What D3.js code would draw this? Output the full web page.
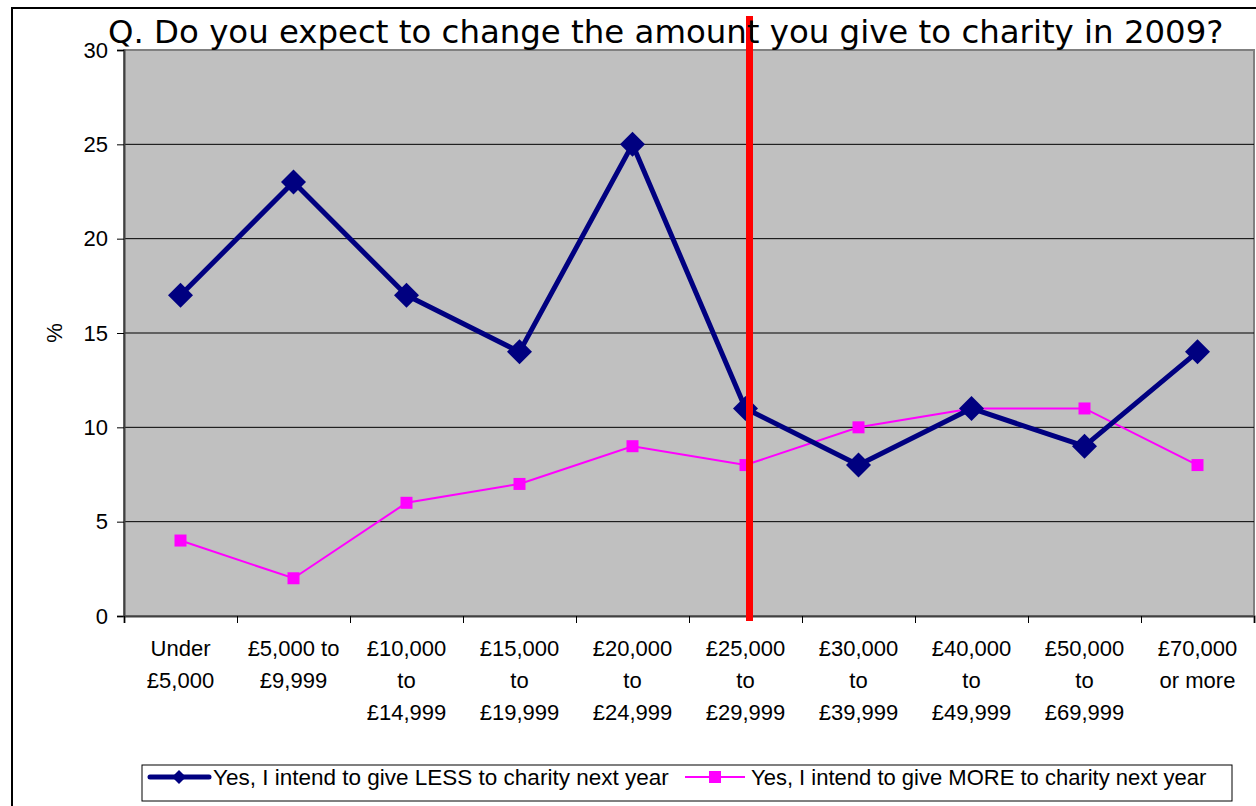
<!DOCTYPE html>
<html><head><meta charset="utf-8">
<script src="https://cdn.jsdelivr.net/npm/d3@7"></script>
<style>body{margin:0;background:#fff}svg{display:block}</style>
</head><body>
<svg id="c" width="1256" height="806"></svg>
<script>
const categories = [
  ["Under","£5,000"],
  ["£5,000 to","£9,999"],
  ["£10,000","to","£14,999"],
  ["£15,000","to","£19,999"],
  ["£20,000","to","£24,999"],
  ["£25,000","to","£29,999"],
  ["£30,000","to","£39,999"],
  ["£40,000","to","£49,999"],
  ["£50,000","to","£69,999"],
  ["£70,000","or more"]
];
const lessValues = [17, 23, 17, 14, 25, 11, 8, 11, 9, 14];
const moreValues = [4, 2, 6, 7, 9, 8, 10, 11, 11, 8];
const yTicks = [0, 5, 10, 15, 20, 25, 30];
const seriesNames = ["Yes, I intend to give LESS to charity next year", "Yes, I intend to give MORE to charity next year"];
const titleText = "Q. Do you expect to change the amount you give to charity in 2009?";
const markerCategory = 5;

const svg = d3.select("#c");
const L = 124, R = 1254, T = 50, B = 616;
const idx = d3.range(categories.length);
const x = d3.scaleBand().domain(idx).range([L, R]).padding(0);
const y = d3.scaleLinear().domain([0, 30]).range([B, T]);
const cx = i => x(i) + x.bandwidth() / 2;
const FF = "Liberation Sans, Arial, sans-serif";

// outer frame
svg.append("rect").attr("x", 12).attr("y", 8).attr("width", 1270).attr("height", 820)
  .attr("fill", "#fff").attr("stroke", "#000").attr("stroke-width", 2);

// plot area
svg.append("rect").attr("x", L).attr("y", T).attr("width", R - L).attr("height", B - T)
  .attr("fill", "#C0C0C0").attr("stroke", "#808080").attr("stroke-width", 2);

// gridlines
svg.append("g").selectAll("line").data(yTicks.filter(d => d > 0 && d < 30)).join("line")
  .attr("x1", L).attr("x2", R).attr("y1", d => y(d)).attr("y2", d => y(d))
  .attr("stroke", "#000").attr("stroke-width", 1);

// y axis
const yAxis = d3.axisLeft(y).tickValues(yTicks).tickSize(7).tickPadding(9);
const gy = svg.append("g").attr("transform", `translate(${L},0)`).call(yAxis);
gy.select(".domain").attr("stroke", "#404040").attr("stroke-width", 2);
gy.selectAll(".tick line").attr("stroke", "#000");
gy.selectAll(".tick text").attr("font-family", FF).attr("font-size", 22).attr("fill", "#000");

// x axis
const xb = d3.scaleLinear().domain([0, categories.length]).range([L, R]);
const xAxis = d3.axisBottom(xb).tickValues(d3.range(categories.length + 1)).tickSize(7).tickFormat("");
const gx = svg.append("g").attr("transform", `translate(0,${B})`).call(xAxis);
gx.select(".domain").attr("stroke", "#404040").attr("stroke-width", 2);
gx.selectAll(".tick line").attr("stroke", "#000");

const xl = svg.append("g").selectAll("text").data(idx).join("text")
  .attr("x", d => cx(d)).attr("y", 656)
  .attr("text-anchor", "middle")
  .attr("font-family", FF).attr("font-size", 22).attr("fill", "#000");
xl.each(function(d) {
  const t = d3.select(this);
  categories[d].forEach((s, k) => t.append("tspan").attr("x", cx(d)).attr("dy", k === 0 ? 0 : 32).text(s));
});

// y label
svg.append("text").attr("transform", "translate(62,333) rotate(-90)")
  .attr("text-anchor", "middle").attr("font-family", FF)
  .attr("font-size", 22).text("%");

// MORE series
const lineGen = d3.line().x((d, i) => cx(i)).y(d => y(d));
svg.append("path").attr("d", lineGen(moreValues)).attr("fill", "none")
  .attr("stroke", "#FF00FF").attr("stroke-width", 2);
svg.append("g").selectAll("rect").data(moreValues).join("rect")
  .attr("x", (d, i) => cx(i) - 6).attr("y", d => y(d) - 6).attr("width", 12).attr("height", 12)
  .attr("fill", "#FF00FF");

// LESS series
svg.append("path").attr("d", lineGen(lessValues)).attr("fill", "none")
  .attr("stroke", "#000080").attr("stroke-width", 5).attr("stroke-linejoin", "round");
const diamond = s => `M0,${-s}L${s},0L0,${s}L${-s},0Z`;
svg.append("g").selectAll("path").data(lessValues).join("path")
  .attr("transform", (d, i) => `translate(${cx(i)},${y(d)})`)
  .attr("d", diamond(12.5)).attr("fill", "#000080");

// red vertical marker
svg.append("rect").attr("x", cx(markerCategory) + 0.5).attr("y", 16).attr("width", 7).attr("height", 621 - 16)
  .attr("fill", "#FF0000");

// title
svg.append("text").attr("x", 108).attr("y", 43)
  .attr("font-family", "DejaVu Sans, Verdana, sans-serif").attr("font-size", 32.4).attr("fill", "#000")
  .text(titleText);

// legend
const lg = svg.append("g");
lg.append("rect").attr("x", 142).attr("y", 765).attr("width", 1090).attr("height", 36)
  .attr("fill", "#fff").attr("stroke", "#000").attr("stroke-width", 1);
// item 1
lg.append("line").attr("x1", 150).attr("x2", 209).attr("y1", 777).attr("y2", 777)
  .attr("stroke", "#000080").attr("stroke-width", 5).attr("stroke-linecap", "round");
lg.append("path").attr("transform", "translate(179,777)").attr("d", diamond(7)).attr("fill", "#000080");
lg.append("text").attr("x", 213).attr("y", 785).attr("font-family", FF).attr("font-size", 22.5).text(seriesNames[0]);
// item 2
lg.append("line").attr("x1", 685).attr("x2", 745).attr("y1", 777).attr("y2", 777)
  .attr("stroke", "#FF00FF").attr("stroke-width", 2);
lg.append("rect").attr("x", 709).attr("y", 771).attr("width", 12).attr("height", 12).attr("fill", "#FF00FF");
lg.append("text").attr("x", 751).attr("y", 785).attr("font-family", FF).attr("font-size", 22).text(seriesNames[1]);
</script>
</body></html>
